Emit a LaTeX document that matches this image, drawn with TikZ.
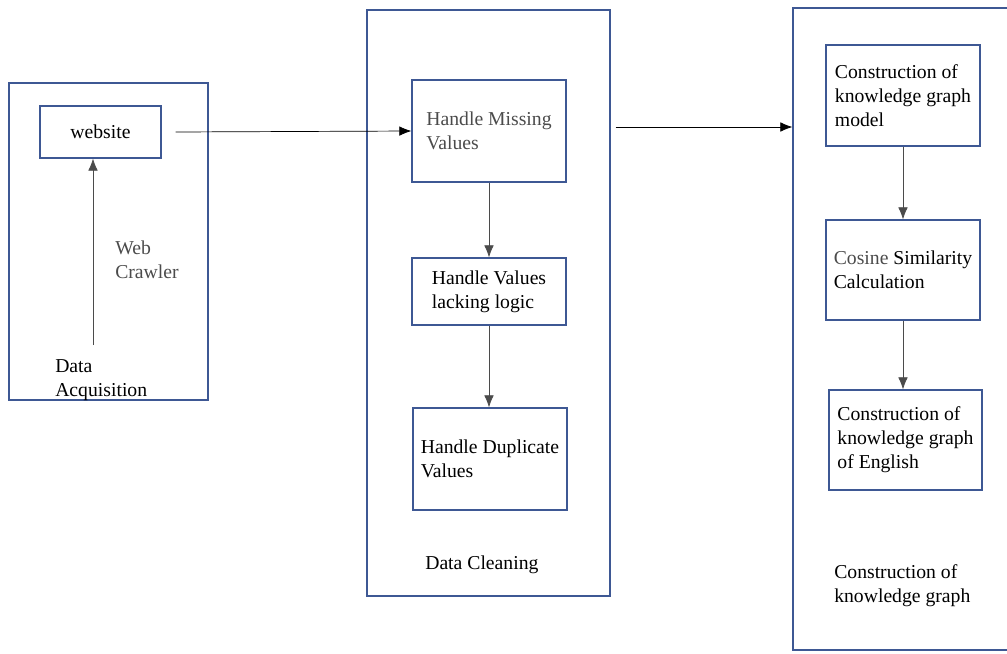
\documentclass[tikz,border=0pt]{standalone}
\usepackage{fontspec}
\setmainfont{Liberation Serif}
\usetikzlibrary{arrows.meta}
\definecolor{boxblue}{RGB}{62,88,148}
\definecolor{softgray}{RGB}{75,75,75}

\begin{document}
\begin{tikzpicture}[x=0.025cm,y=-0.025cm,
		panel/.style={draw=boxblue, line width=0.9pt, inner sep=0pt},
		stepbox/.style={draw=boxblue, line width=0.9pt, align=left, minimum width=3.85cm},
		lbl/.style={inner sep=0pt, align=left, anchor=west},
		arr/.style={-{Latex[length=0.3cm,width=0.24cm]}, line width=0.5pt}]
	\fontsize{14}{17}\selectfont
	\useasboundingbox (0,0) rectangle (1007,653);
	\clip (0,0) rectangle (1007,653);
	% the three stages
	\node[panel, minimum width=4.975cm, minimum height=7.925cm] (acq) at (108.5,241.5) {};
	\node[panel, minimum width=6.075cm, minimum height=14.65cm] (clean) at (488.5,303) {};
	\node[panel, minimum width=5.675cm, minimum height=16.05cm] (kg) at (906.5,329) {};
	% data acquisition
	\node[stepbox, minimum width=3.025cm, minimum height=1.3cm] (web) at (100.5,132) {website};
	\node[lbl, text=softgray] (crawl) at (115,260) {Web\\Crawler};
	\node[lbl] (acqlbl) at (55,380) {Data\\Acquisition};
	\coordinate (crawlfoot) at (93,345);
	\draw[arr, softgray] (crawlfoot) -- (crawlfoot |- web.south);
	% data cleaning
	\node[stepbox, minimum height=2.55cm, text=softgray] (miss) at (489,131) {Handle Missing\\Values};
	\node[stepbox, minimum height=1.675cm] (logic) at (489,291.5) {Handle Values\\lacking logic};
	\node[stepbox, minimum height=2.55cm] (dup) at (490,459) {Handle Duplicate\\Values};
	\node[lbl] (cleanlbl) at (425,565) {Data Cleaning};
	\draw[arr, softgray] (miss) -- (logic);
	\draw[arr, softgray] (logic) -- (logic.south |- dup.north);
	% knowledge graph
	\node[stepbox, minimum height=2.525cm] (model) at (903,95.5) {Construction of\\knowledge graph\\model};
	\node[stepbox, minimum height=2.5cm] (cos) at (903,270) {{\color{softgray}Cosine} Similarity\\Calculation};
	\node[stepbox, minimum width=3.825cm, minimum height=2.5cm] (eng) at (905.5,440) {Construction of\\knowledge graph\\of English};
	\node[lbl] (kglbl) at (834,586) {Construction of\\knowledge graph};
	\draw[arr, softgray] (model) -- (cos);
	\draw[arr, softgray] (cos.south) -- (cos.south |- eng.north);
	% between the stages
	\draw[arr] ([xshift=0.35cm]web.east) -- (miss.west);
	\draw[arr] ([xshift=0.125cm]clean.east |- 0,127) -- (kg.west |- 0,127);
\end{tikzpicture}
\end{document}
